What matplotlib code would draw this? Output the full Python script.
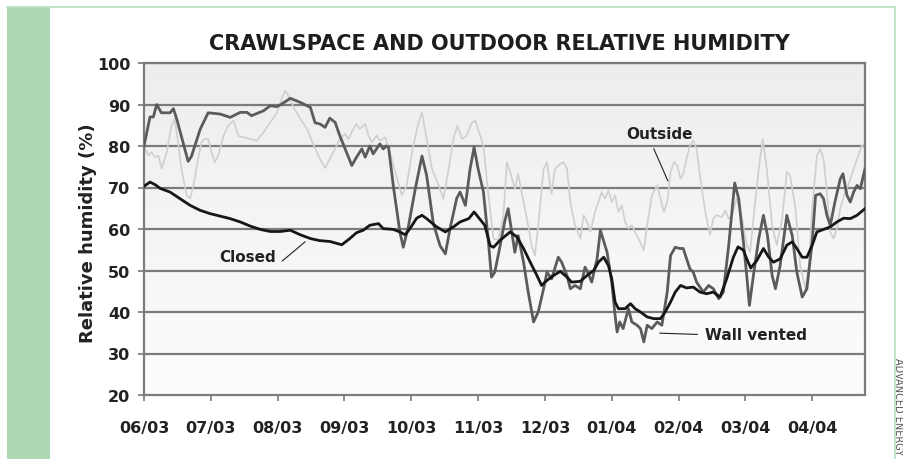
import numpy as np
import matplotlib
matplotlib.use('Agg')
import matplotlib.pyplot as plt
from matplotlib.colors import LinearSegmentedColormap
from matplotlib.patches import Rectangle
from matplotlib.lines import Line2D

#%% data (x in months since 06/03)
month_labels = ['06/03', '07/03', '08/03', '09/03', '10/03', '11/03',
                '12/03', '01/04', '02/04', '03/04', '04/04']

outside_m = [0.015, 0.065, 0.115, 0.165, 0.215, 0.265, 0.34, 0.41, 0.46, 0.51,
             0.56, 0.64, 0.69, 0.74, 0.81, 0.86, 0.91, 0.96, 1.01, 1.06,
             1.11, 1.19, 1.26, 1.34, 1.41, 1.49, 1.59, 1.69, 1.79, 1.89,
             1.99, 2.06, 2.11, 2.16, 2.24, 2.34, 2.44, 2.53, 2.63, 2.71,
             2.78, 2.86, 2.93, 3.01, 3.06, 3.13, 3.18, 3.23, 3.31, 3.36,
             3.41, 3.48, 3.53, 3.61, 3.68, 3.76, 3.86, 3.93, 4.03, 4.11,
             4.16, 4.23, 4.31, 4.41, 4.48, 4.56, 4.63, 4.69, 4.76, 4.83,
             4.91, 4.96, 5.03, 5.08, 5.15, 5.23, 5.30, 5.38, 5.43, 5.48,
             5.55, 5.60, 5.65, 5.73, 5.80, 5.85, 5.90, 5.98, 6.03, 6.08,
             6.10, 6.15, 6.23, 6.28, 6.33, 6.38, 6.45, 6.53, 6.58, 6.63,
             6.68, 6.75, 6.80, 6.85, 6.90, 6.95, 7.00, 7.05, 7.10, 7.15,
             7.20, 7.25, 7.30, 7.35, 7.40, 7.48, 7.53, 7.60, 7.68, 7.73,
             7.78, 7.83, 7.88, 7.93, 7.98, 8.03, 8.07, 8.12, 8.17, 8.22,
             8.27, 8.32, 8.40, 8.47, 8.52, 8.57, 8.65, 8.70, 8.75, 8.80,
             8.87, 8.95, 9.02, 9.07, 9.12, 9.20, 9.26, 9.32, 9.40, 9.47,
             9.55, 9.62, 9.67, 9.75, 9.82, 9.90, 9.95, 10.00, 10.07, 10.12,
             10.17, 10.22, 10.27, 10.32, 10.37, 10.42, 10.49, 10.54, 10.62, 10.69,
             10.74, 10.79]
outside_rh = [79.3, 77.7, 78.5, 77.3, 77.7, 74.5, 78.5, 84.9, 86.5, 80.9,
              74.5, 68.1, 67.3, 70.5, 76.9, 80.9, 81.7, 81.7, 78.5, 76.1,
              77.7, 82.5, 84.9, 86.1, 82.5, 82.1, 81.7, 81.3, 83.3, 85.7,
              88.1, 91.3, 93.3, 92.1, 89.3, 86.5, 84.1, 80.5, 77.0, 74.7,
              76.9, 79.3, 81.7, 82.9, 81.7, 84.1, 85.3, 84.1, 85.3, 82.5,
              80.9, 82.5, 81.3, 82.1, 78.5, 73.7, 68.1, 70.5, 80.1, 85.7,
              88.1, 81.7, 74.5, 70.5, 67.3, 74.5, 81.7, 84.9, 81.7, 82.5,
              85.7, 86.1, 82.5, 80.1, 68.9, 57.7, 57.3, 63.3, 76.1, 73.7,
              69.7, 73.3, 68.9, 62.5, 56.1, 53.6, 60.9, 74.5, 76.1, 70.5,
              68.5, 74.5, 75.7, 76.1, 74.5, 66.5, 60.9, 57.7, 63.3, 61.7,
              59.3, 64.1, 66.5, 68.9, 67.3, 69.3, 66.5, 68.1, 64.1, 65.7,
              61.7, 60.1, 60.9, 59.3, 57.7, 54.9, 60.9, 68.1, 70.5, 67.3,
              64.1, 66.5, 73.7, 76.1, 75.3, 72.1, 73.3, 76.9, 80.1, 81.3,
              79.3, 72.9, 64.1, 58.5, 62.5, 63.3, 62.9, 64.5, 62.5, 63.3,
              67.3, 62.5, 56.1, 54.4, 62.5, 74.5, 81.7, 74.5, 60.9, 56.1,
              62.5, 73.7, 72.9, 64.9, 51.2, 45.6, 51.2, 64.9, 77.7, 79.3,
              76.9, 68.9, 59.3, 57.7, 60.1, 64.9, 68.9, 70.5, 74.5, 77.7,
              80.1, 79.3]

wall_m = [0, 0.09, 0.14, 0.19, 0.26, 0.39, 0.44, 0.49, 0.66, 0.71,
          0.84, 0.96, 1.14, 1.29, 1.44, 1.54, 1.61, 1.79, 1.89, 1.99,
          2.06, 2.19, 2.34, 2.49, 2.56, 2.635, 2.71, 2.78, 2.86, 2.93,
          3.01, 3.11, 3.18, 3.26, 3.31, 3.38, 3.43, 3.53, 3.58, 3.63,
          3.66, 3.73, 3.83, 3.88, 3.96, 4.06, 4.16, 4.23, 4.33, 4.43,
          4.51, 4.58, 4.68, 4.73, 4.81, 4.88, 4.94, 5.00, 5.08, 5.15,
          5.20, 5.25, 5.33, 5.40, 5.45, 5.55, 5.60, 5.68, 5.75, 5.83,
          5.90, 5.98, 6.03, 6.10, 6.20, 6.25, 6.33, 6.38, 6.45, 6.53,
          6.60, 6.65, 6.70, 6.78, 6.83, 6.93, 7.00, 7.05, 7.08, 7.12,
          7.17, 7.25, 7.30, 7.38, 7.43, 7.48, 7.53, 7.60, 7.68, 7.75,
          7.83, 7.88, 7.95, 8.02, 8.07, 8.12, 8.17, 8.22, 8.27, 8.37,
          8.45, 8.52, 8.60, 8.67, 8.75, 8.84, 8.90, 8.97, 9.02, 9.06,
          9.12, 9.20, 9.27, 9.33, 9.40, 9.45, 9.52, 9.62, 9.70, 9.77,
          9.85, 9.92, 10.00, 10.05, 10.12, 10.17, 10.22, 10.27, 10.34, 10.42,
          10.46, 10.52, 10.57, 10.62, 10.67, 10.72, 10.79]
wall_rh = [80.0, 87.0, 87.0, 90.0, 88.0, 88.0, 89.0, 86.5, 76.3, 77.5,
           84.0, 88.0, 87.7, 86.9, 88.1, 88.1, 87.3, 88.5, 89.7, 89.5,
           90.1, 91.5, 90.5, 89.3, 85.6, 85.3, 84.5, 86.7, 85.7, 82.5,
           79.3, 75.3, 77.3, 79.3, 77.3, 80.0, 78.1, 80.5, 79.3, 80.0,
           79.7, 70.5, 59.2, 55.6, 60.9, 69.7, 77.6, 72.9, 61.3, 56.0,
           54.0, 60.1, 67.4, 68.9, 65.7, 74.5, 79.7, 74.5, 68.9, 57.7,
           48.4, 49.6, 56.0, 62.0, 64.9, 54.4, 58.4, 52.0, 44.8, 37.6,
           40.0, 45.6, 49.6, 48.0, 53.2, 52.0, 48.8, 45.6, 46.4, 45.6,
           50.8, 49.2, 47.2, 52.8, 59.7, 54.4, 47.2, 39.2, 35.2, 37.6,
           36.0, 40.8, 37.6, 36.8, 36.0, 32.8, 36.8, 36.0, 37.6, 36.8,
           44.8, 53.6, 55.6, 55.3, 55.3, 52.8, 50.4, 49.6, 47.2, 44.8,
           46.4, 45.6, 43.2, 44.8, 56.0, 71.1, 67.3, 56.9, 48.8, 41.6,
           48.8, 57.7, 63.3, 58.5, 48.8, 45.6, 51.2, 63.3, 58.5, 49.6,
           43.6, 45.6, 56.9, 68.1, 68.5, 67.3, 63.3, 60.9, 66.5, 72.1,
           73.3, 68.1, 66.5, 68.9, 70.5, 69.7, 74.5]

closed_m = [0, 0.09, 0.165, 0.24, 0.39, 0.54, 0.69, 0.84, 0.99, 1.14,
            1.29, 1.44, 1.59, 1.74, 1.89, 2.04, 2.19, 2.34, 2.49, 2.63,
            2.78, 2.96, 3.08, 3.18, 3.28, 3.38, 3.51, 3.58, 3.73, 3.83,
            3.91, 3.98, 4.08, 4.16, 4.23, 4.38, 4.51, 4.63, 4.73, 4.86,
            4.94, 5.00, 5.10, 5.18, 5.23, 5.33, 5.48, 5.58, 5.68, 5.78,
            5.88, 5.95, 6.03, 6.13, 6.23, 6.33, 6.40, 6.53, 6.63, 6.73,
            6.80, 6.88, 6.95, 7.00, 7.05, 7.10, 7.20, 7.28, 7.35, 7.43,
            7.53, 7.63, 7.73, 7.80, 7.88, 7.95, 8.03, 8.12, 8.22, 8.32,
            8.42, 8.52, 8.62, 8.72, 8.82, 8.89, 8.97, 9.02, 9.08, 9.17,
            9.27, 9.35, 9.42, 9.52, 9.62, 9.70, 9.77, 9.85, 9.92, 10.00,
            10.07, 10.17, 10.27, 10.37, 10.47, 10.57, 10.67, 10.79]
closed_rh = [70.3, 71.3, 70.7, 69.8, 68.9, 67.3, 65.7, 64.5, 63.7, 63.1,
             62.5, 61.7, 60.7, 59.9, 59.4, 59.4, 59.7, 58.6, 57.7, 57.2,
             57.0, 56.2, 57.7, 59.1, 59.7, 60.9, 61.3, 60.1, 59.9, 59.3,
             58.6, 60.1, 62.6, 63.3, 62.5, 60.5, 59.3, 60.5, 61.7, 62.5,
             64.1, 62.9, 60.9, 56.0, 55.6, 57.3, 59.3, 58.1, 55.3, 52.0,
             48.8, 46.4, 47.6, 48.8, 49.8, 48.4, 47.2, 47.4, 48.8, 50.0,
             52.0, 53.2, 51.2, 48.0, 42.4, 40.8, 40.8, 42.0, 40.8, 40.0,
             38.8, 38.4, 38.4, 40.0, 42.4, 44.8, 46.4, 45.8, 46.0, 44.8,
             44.4, 44.8, 43.6, 48.0, 53.2, 55.7, 54.9, 52.8, 50.6, 52.4,
             55.3, 53.2, 52.0, 52.8, 56.1, 56.9, 55.3, 53.2, 53.2, 56.1,
             59.3, 59.9, 60.5, 61.7, 62.6, 62.5, 63.3, 64.9]

#%% figure
W, H = 904, 460
fig = plt.figure(figsize=(W / 100, H / 100), dpi=100)
fig.patch.set_facecolor('white')

# green side strip and thin frame
fig.patches.append(Rectangle((7 / W, 0), 43 / W, 1 - 8 / H, transform=fig.transFigure,
                             facecolor='#acd8b4', edgecolor='none', zorder=0))
fig.lines.append(Line2D([7 / W, 895 / W], [1 - 8 / H, 1 - 8 / H], transform=fig.transFigure,
                        color='#b6e2bf', lw=1.2))
fig.lines.append(Line2D([895 / W, 895 / W], [0, 1 - 8 / H], transform=fig.transFigure,
                        color='#b6e2bf', lw=1.2))

ax = fig.add_axes([144 / W, 1 - 396 / H, 721 / W, 332 / H])
xmax = 10.79
ax.set_xlim(0, xmax)
ax.set_ylim(20, 100)

# soft gray gradient background
grad = np.linspace(0, 1, 256).reshape(-1, 1)
cmap = LinearSegmentedColormap.from_list('bg', ['#fdfdfd', '#ededed'])
ax.imshow(grad, extent=[0, xmax, 20, 100], origin='lower', aspect='auto',
          cmap=cmap, zorder=0)

for v in range(30, 101, 10):
    ax.axhline(v, color='#7c7c7c', lw=1.6, zorder=1)

ax.plot(outside_m, outside_rh, color='#cfcfcf', lw=1.2, zorder=2)
ax.plot(wall_m, wall_rh, color='#5b5b5b', lw=2.0, zorder=3)
ax.plot(closed_m, closed_rh, color='#161616', lw=2.0, zorder=4)

for s in ['left', 'right', 'bottom', 'top']:
    ax.spines[s].set_color('#7c7c7c')
    ax.spines[s].set_linewidth(1.6)

ax.set_xticks(range(len(month_labels)))
ax.set_xticklabels(month_labels)
ax.set_yticks(range(20, 101, 10))
ax.tick_params(axis='x', length=4, width=1.4, color='#8a8a8a', pad=14,
               labelsize=11.5, labelcolor='#222222')
ax.tick_params(axis='y', length=4, width=1.4, color='#8a8a8a', pad=6,
               labelsize=11.5, labelcolor='#222222')
for lab in ax.get_xticklabels() + ax.get_yticklabels():
    lab.set_fontweight('bold')

# annotations
ax.text(1.98, 53.3, 'Closed', ha='right', va='center', fontsize=11,
        fontweight='bold', color='#222222', zorder=5)
ax.plot([2.07, 2.41], [52.3, 56.9], color='#222222', lw=0.8, zorder=5)

ax.text(7.72, 82.9, 'Outside', ha='center', va='center', fontsize=11,
        fontweight='bold', color='#222222', zorder=5)
ax.plot([7.63, 7.84], [79.3, 71.6], color='#222222', lw=0.8, zorder=5)

ax.text(8.40, 34.5, 'Wall vented', ha='left', va='center', fontsize=11,
        fontweight='bold', color='#222222', zorder=5)
ax.plot([7.72, 8.28], [34.9, 34.6], color='#222222', lw=0.8, zorder=5)

fig.text(499 / W, 1 - 44 / H, 'CRAWLSPACE AND OUTDOOR RELATIVE HUMIDITY',
         ha='center', va='center', fontsize=15, fontweight='bold', color='#1e1e1e')
fig.text(88 / W, 1 - 233 / H, 'Relative humidity (%)', rotation=90,
         ha='center', va='center', fontsize=13, fontweight='bold', color='#222222')
fig.text(898 / W, 1 - 358 / H, 'ADVANCED ENERGY', rotation=-90, ha='center', va='top',
         fontsize=7, color='#555555')

fig.savefig('out.png', dpi=100)
